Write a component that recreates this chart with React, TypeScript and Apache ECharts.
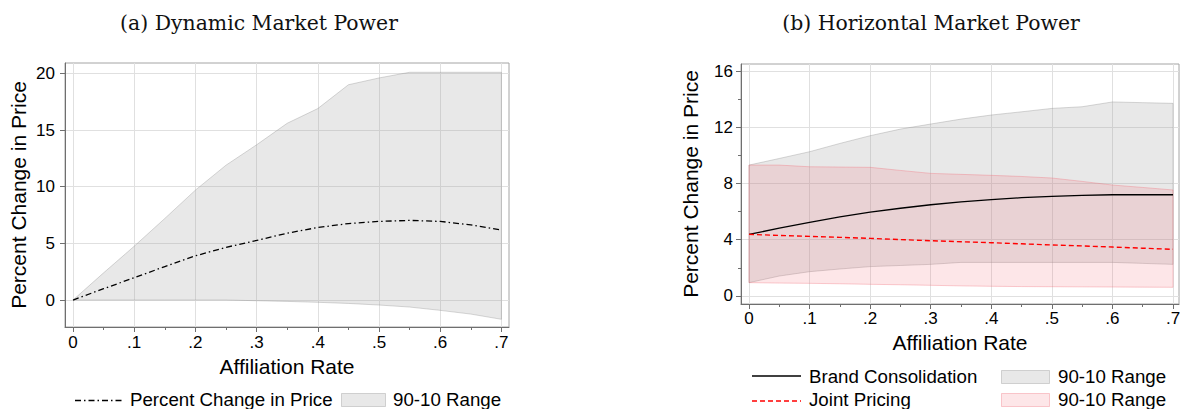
import React, { useEffect, useRef } from "react";
import * as echarts from "echarts";

// Affiliation rates on the horizontal axis (shared by both panels)
const affiliationRates = [0, 0.05, 0.1, 0.15, 0.2, 0.25, 0.3, 0.35, 0.4, 0.45, 0.5, 0.55, 0.6, 0.65, 0.7];

// Panel (a): dynamic market power
const dynamicChange = [0, 1.0, 1.97, 2.95, 3.9, 4.65, 5.26, 5.9, 6.4, 6.75, 6.94, 7.03, 6.94, 6.63, 6.18];
const dynamicUpper = [0, 2.4, 4.75, 7.2, 9.7, 11.9, 13.7, 15.6, 16.9, 19.0, 19.6, 20.1, 20.1, 20.1, 20.1];
const dynamicLower = [0, 0, 0, 0, 0, 0, -0.06, -0.12, -0.2, -0.3, -0.44, -0.62, -0.91, -1.24, -1.7];

// Panel (b): horizontal market power
const brandConsolidation = [4.38, 4.82, 5.24, 5.62, 5.97, 6.24, 6.49, 6.69, 6.85, 6.99, 7.09, 7.16, 7.2, 7.21, 7.2];
const brandUpper = [9.31, 9.78, 10.26, 10.85, 11.4, 11.87, 12.23, 12.58, 12.87, 13.1, 13.34, 13.46, 13.8, 13.75, 13.7];
const brandLower = [0.95, 1.42, 1.73, 1.92, 2.09, 2.17, 2.25, 2.39, 2.39, 2.39, 2.39, 2.39, 2.39, 2.32, 2.25];
const jointPricing = [4.38, 4.31, 4.24, 4.17, 4.1, 4.01, 3.93, 3.86, 3.79, 3.71, 3.63, 3.56, 3.48, 3.4, 3.32];
const jointUpper = [9.31, 9.31, 9.19, 9.17, 9.15, 8.93, 8.72, 8.65, 8.58, 8.5, 8.39, 8.15, 7.89, 7.72, 7.54];
const jointLower = [0.95, 0.92, 0.9, 0.87, 0.83, 0.8, 0.76, 0.72, 0.69, 0.67, 0.66, 0.65, 0.64, 0.63, 0.62];

// Tick values
const xTickValues = [0, 0.1, 0.2, 0.3, 0.4, 0.5, 0.6, 0.7];
const xMinorTickValues = [0.05, 0.15, 0.25, 0.35, 0.45, 0.55, 0.65];
const dynamicYTicks = [0, 5, 10, 15, 20];
const horizontalYTicks = [0, 4, 8, 12, 16];
const horizontalYMinorTicks = [2, 6, 10, 14];

const SANS = "'Liberation Sans', Arial, Helvetica, sans-serif";
const SERIF = "'DejaVu Serif', Georgia, serif";
const AXIS_COLOR = "#6f6f6f";
const BORDER_COLOR = "#a4a4a4";
const GRID_COLOR = "#e0e0e0";
const GRAY_FILL = "rgba(150,150,150,0.22)";
const GRAY_EDGE = "rgba(140,140,140,0.35)";
const PINK_FILL = "rgba(240,100,110,0.16)";
const PINK_EDGE = "rgba(240,110,120,0.35)";
const DASH_DOT = [6, 3, 1.5, 3];
const DASHED = [5, 3];
const LEGEND_FONT = 18.7;

const pairs = (ys: number[]) => affiliationRates.map((x, i) => [x, ys[i]]);

const rateLabel = (v: number) => (v === 0 ? "0" : v.toFixed(1).replace(/^0/, ""));

function majorX(gridIndex: number, min: number, max: number, labelMargin: number, nameGap: number) {
  return {
    type: "value",
    gridIndex,
    position: "bottom",
    min,
    max,
    axisLine: { show: true, onZero: false, lineStyle: { color: AXIS_COLOR, width: 1 } },
    axisTick: { show: true, inside: false, length: 5, customValues: xTickValues, lineStyle: { color: AXIS_COLOR } },
    axisLabel: {
      customValues: xTickValues,
      formatter: rateLabel,
      fontSize: 17,
      color: "#000",
      fontFamily: SANS,
      margin: labelMargin,
    },
    splitLine: { show: true, lineStyle: { color: GRID_COLOR, width: 1 } },
    name: "Affiliation Rate",
    nameLocation: "middle",
    nameGap,
    nameTextStyle: { fontSize: 21, color: "#000", fontFamily: SANS },
  };
}

function minorX(gridIndex: number, min: number, max: number) {
  return {
    type: "value",
    gridIndex,
    position: "bottom",
    min,
    max,
    axisLine: { show: false, onZero: false },
    axisTick: { show: true, inside: false, length: 3, customValues: xMinorTickValues, lineStyle: { color: AXIS_COLOR } },
    axisLabel: { show: false },
    splitLine: { show: false },
  };
}

function majorY(gridIndex: number, min: number, max: number, ticks: number[], labelMargin: number, nameGap: number) {
  return {
    type: "value",
    gridIndex,
    position: "left",
    min,
    max,
    axisLine: { show: true, onZero: false, lineStyle: { color: AXIS_COLOR, width: 1 } },
    axisTick: { show: true, inside: false, length: 5, customValues: ticks, lineStyle: { color: AXIS_COLOR } },
    axisLabel: {
      customValues: ticks,
      fontSize: 17,
      color: "#000",
      fontFamily: SANS,
      margin: labelMargin,
    },
    splitLine: { show: true, lineStyle: { color: GRID_COLOR, width: 1 } },
    name: "Percent Change in Price",
    nameLocation: "middle",
    nameGap,
    nameTextStyle: { fontSize: 21, color: "#000", fontFamily: SANS },
  };
}

function minorY(gridIndex: number, min: number, max: number, ticks: number[]) {
  return {
    type: "value",
    gridIndex,
    position: "left",
    min,
    max,
    axisLine: { show: false, onZero: false },
    axisTick: { show: true, inside: false, length: 3, customValues: ticks, lineStyle: { color: AXIS_COLOR } },
    axisLabel: { show: false },
    splitLine: { show: false },
  };
}

// A shaded range between a lower and an upper curve, drawn as one polygon
function band(xAxisIndex: number, yAxisIndex: number, hi: number[], lo: number[], fill: string, edge: string) {
  return {
    type: "custom",
    xAxisIndex,
    yAxisIndex,
    silent: true,
    clip: true,
    data: affiliationRates.map((x, i) => [x, lo[i], hi[i]]),
    encode: { x: 0, y: [1, 2] },
    renderItem: (params: any, api: any) => {
      if (params.dataIndex !== 0) return null;
      const top = affiliationRates.map((x, i) => api.coord([x, hi[i]]));
      const bottom = affiliationRates.map((x, i) => api.coord([x, lo[i]])).reverse();
      return {
        type: "polygon",
        shape: { points: top.concat(bottom) },
        style: { fill, stroke: edge, lineWidth: 1 },
      };
    },
  };
}

function legendText(text: string, x: number, y: number) {
  return {
    type: "text",
    x,
    y,
    style: { text, fontSize: LEGEND_FONT, fontFamily: SANS, fill: "#000", verticalAlign: "middle", align: "left" },
  };
}

export default function App() {
  const ref = useRef<HTMLDivElement>(null);

  useEffect(() => {
    if (!ref.current) return;
    const chart = echarts.init(ref.current, null, { renderer: "svg" });

    const option = {
      animation: false,
      backgroundColor: "#fff",
      grid: [
        {
          left: 65, top: 63, width: 444, height: 264,
          show: true, borderColor: BORDER_COLOR, borderWidth: 1, backgroundColor: "#fff",
          outerBoundsMode: "none",
        },
        {
          left: 741, top: 64, width: 438, height: 240,
          show: true, borderColor: BORDER_COLOR, borderWidth: 1, backgroundColor: "#fff",
          outerBoundsMode: "none",
        },
      ],
      xAxis: [
        majorX(0, -0.0131, 0.7124, 7, 28),
        minorX(0, -0.0131, 0.7124),
        majorX(1, -0.0132, 0.7099, 6, 26),
        minorX(1, -0.0132, 0.7099),
      ],
      yAxis: [
        majorY(0, -2.38, 20.92, dynamicYTicks, 10, 36),
        majorY(1, -0.57, 16.5, horizontalYTicks, 8, 40),
        minorY(1, -0.57, 16.5, horizontalYMinorTicks),
      ],
      series: [
        band(0, 0, dynamicUpper, dynamicLower, GRAY_FILL, GRAY_EDGE),
        {
          name: "Percent Change in Price",
          type: "line",
          xAxisIndex: 0,
          yAxisIndex: 0,
          data: pairs(dynamicChange),
          symbol: "none",
          lineStyle: { color: "#000", width: 1.3, type: DASH_DOT },
        },
        band(2, 1, brandUpper, brandLower, GRAY_FILL, GRAY_EDGE),
        band(2, 1, jointUpper, jointLower, PINK_FILL, PINK_EDGE),
        {
          name: "Brand Consolidation",
          type: "line",
          xAxisIndex: 2,
          yAxisIndex: 1,
          data: pairs(brandConsolidation),
          symbol: "none",
          lineStyle: { color: "#000", width: 1.3 },
        },
        {
          name: "Joint Pricing",
          type: "line",
          xAxisIndex: 2,
          yAxisIndex: 1,
          data: pairs(jointPricing),
          symbol: "none",
          lineStyle: { color: "#ff0000", width: 1.4, type: DASHED },
        },
      ],
      graphic: [
        // Panel titles
        {
          type: "text",
          x: 259,
          y: 23,
          style: { text: "(a) Dynamic Market Power", fontSize: 20.4, fontFamily: SERIF, fill: "#111", align: "center", verticalAlign: "middle" },
        },
        {
          type: "text",
          x: 931,
          y: 23,
          style: { text: "(b) Horizontal Market Power", fontSize: 20.4, fontFamily: SERIF, fill: "#111", align: "center", verticalAlign: "middle" },
        },
        // Legend, panel (a)
        {
          type: "line",
          shape: { x1: 75, y1: 400.5, x2: 122, y2: 400.5 },
          style: { stroke: "#000", lineWidth: 1.3, lineDash: DASH_DOT },
        },
        legendText("Percent Change in Price", 130, 399),
        {
          type: "rect",
          shape: { x: 341.5, y: 393.5, width: 44, height: 13 },
          style: { fill: GRAY_FILL, stroke: GRAY_EDGE, lineWidth: 1 },
        },
        legendText("90-10 Range", 393, 399),
        // Legend, panel (b)
        {
          type: "line",
          shape: { x1: 752, y1: 376, x2: 801, y2: 376 },
          style: { stroke: "#000", lineWidth: 1.3 },
        },
        legendText("Brand Consolidation", 809, 376),
        {
          type: "line",
          shape: { x1: 752, y1: 401, x2: 801, y2: 401 },
          style: { stroke: "#ff0000", lineWidth: 1.4, lineDash: DASHED },
        },
        legendText("Joint Pricing", 809, 399),
        {
          type: "rect",
          shape: { x: 1001.5, y: 370.5, width: 48, height: 13 },
          style: { fill: GRAY_FILL, stroke: GRAY_EDGE, lineWidth: 1 },
        },
        legendText("90-10 Range", 1058, 376),
        {
          type: "rect",
          shape: { x: 1001.5, y: 393.5, width: 48, height: 13 },
          style: { fill: PINK_FILL, stroke: PINK_EDGE, lineWidth: 1 },
        },
        legendText("90-10 Range", 1058, 399),
      ],
    };

    chart.setOption(option as any);
    return () => chart.dispose();
  }, []);

  return (
    <div
      ref={ref}
      style={{ position: "absolute", left: 0, top: 0, width: 1181, height: 409 }}
    />
  );
}
